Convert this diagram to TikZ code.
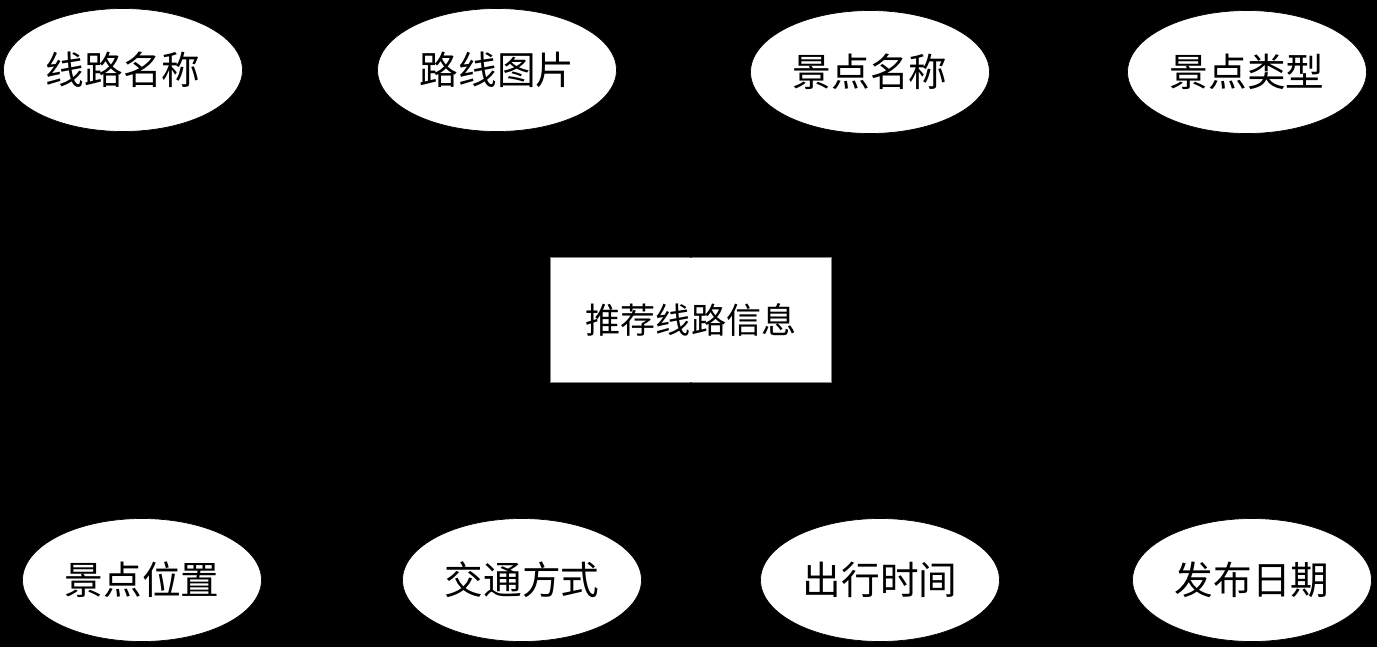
\documentclass[tikz,border=0pt]{standalone}
\usepackage{fontspec}
\newfontfamily\cjk{Noto Sans CJK SC}
\usetikzlibrary{shapes.geometric}
\tikzset{
  attr/.style={
    ellipse,
    draw=black,
    fill=white,
    minimum width=4.78cm,
    minimum height=2.46cm,
    inner sep=0pt,
    font=\cjk\fontsize{22}{26}\selectfont
  },
  entity/.style={
    rectangle,
    draw=gray,
    fill=white,
    minimum width=5.62cm,
    minimum height=2.5cm,
    inner sep=0pt,
    font=\cjk\fontsize{20}{24}\selectfont
  },
  link/.style={
    draw=black,
    thin
  }
}

\begin{document}
\begin{tikzpicture}[x=0.02cm,y=-0.02cm]
\fill[black] (0,0) rectangle (1377,647);
\node[entity] (info) at (691,320) {推荐线路信息};
% top row
\node[attr] (name) at (123,70) {线路名称};
\node[attr] (pic) at (497,70) {路线图片};
\node[attr] (spot) at (870,72) {景点名称};
\node[attr] (type) at (1247,72) {景点类型};
% bottom row
\node[attr] (pos) at (142,580) {景点位置};
\node[attr] (traffic) at (522,580) {交通方式};
\node[attr] (time) at (880,580) {出行时间};
\node[attr] (date) at (1252,580) {发布日期};
\foreach \a in {name,pic,spot,type}
  \draw[link] (\a) -- (info.north);
\foreach \a in {pos,traffic,time,date}
  \draw[link] (\a) -- (info.south);
\end{tikzpicture}
\end{document}
